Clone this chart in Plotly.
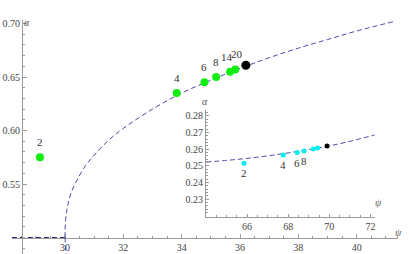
import plotly.graph_objects as go

# ---------------- data ----------------
# main plot: analytic branch (dashed)
flat_psi = [28.18, 29.0, 30.0]
flat_alpha = [0.5, 0.5, 0.5]
upper_psi = [30.0, 30.01, 30.05, 30.1, 30.2, 30.4, 30.7, 31.0, 31.5, 32.0, 33.0, 34.0, 35.0, 36.0, 37.0, 38.0, 39.0, 40.0, 41.3]
upper_alpha = [0.500, 0.512, 0.523, 0.531, 0.541, 0.553, 0.567, 0.577, 0.591, 0.602, 0.620, 0.635, 0.647, 0.658, 0.668, 0.677, 0.685, 0.693, 0.702]
lower_psi = [30.0, 30.01, 30.03]
lower_alpha = [0.5, 0.492, 0.484]

# main plot: numerical points
green_labels = ["2", "4", "6", "8", "14", "20"]
green_psi = [29.14, 33.83, 34.78, 35.18, 35.66, 35.84]
green_alpha = [0.575, 0.635, 0.645, 0.650, 0.655, 0.657]
black_psi = [36.2]
black_alpha = [0.661]

# inset
inset_curve_psi = [64.0, 65.0, 66.0, 67.0, 68.0, 69.0, 70.0, 71.0, 72.2]
inset_curve_alpha = [0.2523, 0.2533, 0.2545, 0.2560, 0.2578, 0.2598, 0.2620, 0.2647, 0.2685]
cyan_labels = ["2", "4", "6", "8", "", ""]
cyan_psi = [65.85, 67.76, 68.44, 68.77, 69.22, 69.43]
cyan_alpha = [0.2516, 0.2565, 0.2580, 0.2589, 0.2601, 0.2607]
inset_black_psi = [69.89]
inset_black_alpha = [0.2619]

main_yticks = [0.55, 0.60, 0.65, 0.70]
main_xticks = [30, 32, 34, 36, 38, 40]
inset_yticks = [0.23, 0.24, 0.25, 0.26, 0.27, 0.28]
inset_xticks = [66, 68, 70, 72]

# ---------------- figure ----------------
W, H = 409, 254
LINE = "#4b4ba8"
AX = "#9a9a9a"
TICKFONT = dict(family="Liberation Serif", size=10, color="#444")

fig = go.Figure()
dash = "5px,3px"
fig.add_trace(go.Scatter(x=flat_psi, y=flat_alpha, mode="lines",
                         line=dict(color="#2a2a70", width=1.2, dash=dash), xaxis="x", yaxis="y"))
fig.add_trace(go.Scatter(x=upper_psi, y=upper_alpha, mode="lines", line_shape="spline",
                         line=dict(color=LINE, width=1, dash=dash), xaxis="x", yaxis="y"))
fig.add_trace(go.Scatter(x=lower_psi, y=lower_alpha, mode="lines",
                         line=dict(color=LINE, width=1, dash=dash), xaxis="x", yaxis="y"))
fig.add_trace(go.Scatter(x=green_psi, y=green_alpha, mode="markers",
                         marker=dict(color="#11ee11", size=8), xaxis="x", yaxis="y"))
fig.add_trace(go.Scatter(x=black_psi, y=black_alpha, mode="markers",
                         marker=dict(color="black", size=9), xaxis="x", yaxis="y"))

fig.add_trace(go.Scatter(x=inset_curve_psi, y=inset_curve_alpha, mode="lines", line_shape="spline",
                         line=dict(color=LINE, width=1, dash=dash), xaxis="x2", yaxis="y2"))
fig.add_trace(go.Scatter(x=cyan_psi, y=cyan_alpha, mode="markers",
                         marker=dict(color="#00f0f0", size=5), xaxis="x2", yaxis="y2"))
fig.add_trace(go.Scatter(x=inset_black_psi, y=inset_black_alpha, mode="markers",
                         marker=dict(color="black", size=5), xaxis="x2", yaxis="y2"))

annotations = []
shifts = {"14": (-3, 15), "20": (2, 16)}
for lab, px, py in zip(green_labels, green_psi, green_alpha):
    xs, ys = shifts.get(lab, (0, 15))
    annotations.append(dict(x=px, y=py, xref="x", yref="y", text=lab, showarrow=False,
                            xshift=xs, yshift=ys, font=dict(family="Liberation Serif", size=11, color="#333")))
for lab, px, py in zip(cyan_labels, cyan_psi, cyan_alpha):
    if lab:
        annotations.append(dict(x=px, y=py, xref="x2", yref="y2", text=lab, showarrow=False,
                                yshift=-10, font=dict(family="Liberation Serif", size=11, color="#333")))

def paper(px, py):
    return px / W, 1 - py / H

for txt, (px, py) in [("<i>α</i>", (21.7, 15)), ("<i>ψ</i>", (404, 240)),
                      ("<i>α</i>", (205, 101.7)), ("<i>ψ</i>", (384, 210))]:
    x, y = paper(px, py)
    annotations.append(dict(x=x, y=y, xref="paper", yref="paper", text=txt, showarrow=False,
                            font=dict(family="Liberation Serif", size=10, color="#555")))

axis_common = dict(showgrid=False, zeroline=False, showline=True, linecolor=AX, linewidth=1,
                   ticks="inside", tickcolor=AX, tickfont=TICKFONT, automargin=False)

fig.update_layout(
    width=W, height=H, margin=dict(l=0, r=0, t=0, b=0, autoexpand=False),
    paper_bgcolor="white", plot_bgcolor="white", showlegend=False,
    xaxis=dict(domain=[12 / W, 398 / W], range=[28.183, 41.416], anchor="free",
               position=1 - 238 / H, tickmode="array", tickvals=main_xticks, ticklen=4,
               minor=dict(tickmode="linear", tick0=0, dtick=0.5, ticks="inside", ticklen=2, tickcolor=AX),
               layer="below traces", **axis_common),
    yaxis=dict(domain=[0, 1 - 20 / H], range=[0.48458, 0.70327], anchor="free",
               position=22 / W, tickmode="array", tickvals=main_yticks,
               ticktext=[f"{v:.2f}" for v in main_yticks], ticklen=4,
               minor=dict(tickmode="linear", tick0=0.5, dtick=0.01, ticks="inside", ticklen=2, tickcolor=AX),
               **axis_common),
    xaxis2=dict(domain=[206 / W, 375 / W], range=[64.0, 72.224], anchor="y2",
                tickmode="array", tickvals=inset_xticks, ticklen=3,
                minor=dict(tickmode="linear", tick0=0, dtick=0.5, ticks="inside", ticklen=2, tickcolor=AX),
                **axis_common),
    yaxis2=dict(domain=[1 - 216.7 / H, 1 - 110 / H], range=[0.21958, 0.28347], anchor="x2",
                tickmode="array", tickvals=inset_yticks,
                ticktext=[f"{v:.2f}" for v in inset_yticks], ticklen=3,
                minor=dict(tickmode="linear", tick0=0.22, dtick=0.002, ticks="inside", ticklen=1.5, tickcolor=AX),
                **axis_common),
    annotations=annotations,
)

fig.write_html("out.html", config={"displayModeBar": False},
               post_script="document.body.style.margin='0';document.body.style.overflow='hidden';")
